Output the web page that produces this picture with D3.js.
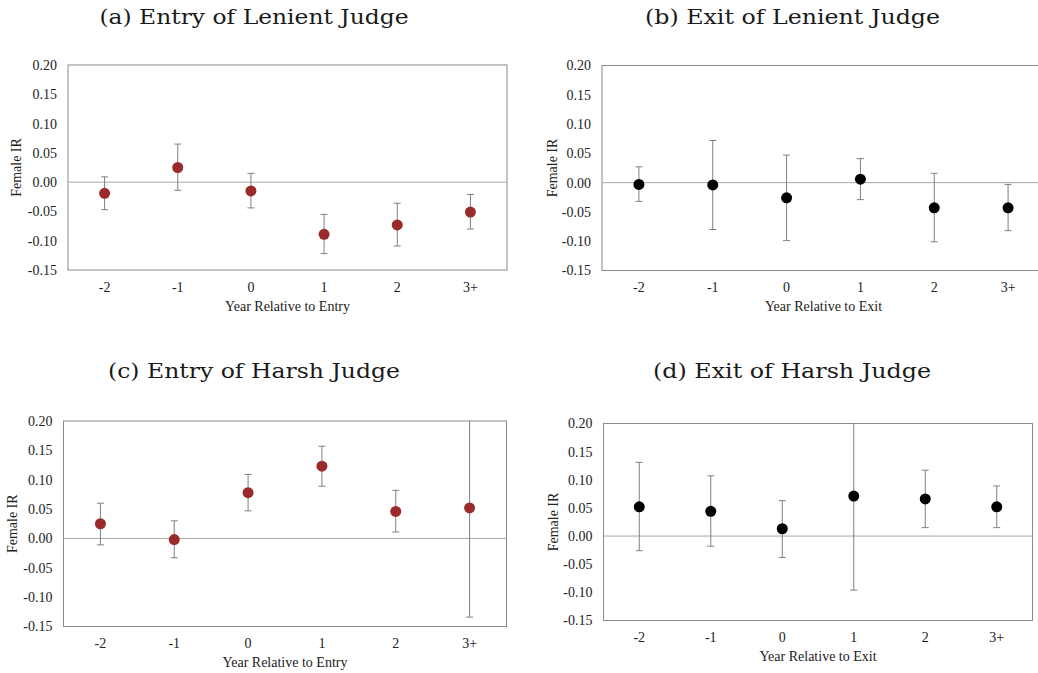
<!DOCTYPE html>
<html>
<head>
<meta charset="utf-8">
<script src="https://cdn.jsdelivr.net/npm/d3@7"></script>
<style>
  body { margin: 0; background: #fff; }
  svg { display: block; }
</style>
</head>
<body>
<div id="chart"></div>
<script>
// Categories and tick values shared by all four panels
const years = ['-2', '-1', '0', '1', '2', '3+'];
const yTicks = [0.20, 0.15, 0.10, 0.05, 0.00, -0.05, -0.10, -0.15];

// (a) Entry of lenient judge
const entryLenientEst = [-0.019, 0.025, -0.015, -0.089, -0.073, -0.051];
const entryLenientLo  = [-0.047, -0.014, -0.044, -0.122, -0.109, -0.080];
const entryLenientHi  = [0.009, 0.065, 0.015, -0.055, -0.036, -0.021];

// (b) Exit of lenient judge
const exitLenientEst = [-0.003, -0.004, -0.026, 0.006, -0.043, -0.043];
const exitLenientLo  = [-0.032, -0.080, -0.099, -0.029, -0.101, -0.082];
const exitLenientHi  = [0.027, 0.072, 0.047, 0.041, 0.016, -0.003];

// (c) Entry of harsh judge
const entryHarshEst = [0.025, -0.002, 0.078, 0.123, 0.046, 0.052];
const entryHarshLo  = [-0.011, -0.033, 0.047, 0.089, 0.011, -0.134];
const entryHarshHi  = [0.060, 0.030, 0.109, 0.157, 0.082, 0.238];

// (d) Exit of harsh judge
const exitHarshEst = [0.052, 0.044, 0.013, 0.071, 0.066, 0.052];
const exitHarshLo  = [-0.026, -0.018, -0.038, -0.096, 0.015, 0.015];
const exitHarshHi  = [0.131, 0.107, 0.063, 0.238, 0.117, 0.089];

const SERIF = '"Liberation Serif", "Times New Roman", serif';

const svg = d3.select('#chart')
    .append('svg')
    .attr('width', 1038)
    .attr('height', 673);

function drawPanel(p) {
    const x = d3.scaleBand()
        .domain(years)
        .range([p.left, p.right]);

    const y = d3.scaleLinear()
        .domain([-0.15, 0.20])
        .range([p.bottom, p.top]);

    // Panel title
    svg.append('text')
        .attr('x', p.titleX)
        .attr('y', p.titleY)
        .attr('text-anchor', 'middle')
        .attr('dominant-baseline', 'central')
        .attr('font-family', '"DejaVu Serif", serif')
        .attr('font-size', 19.5)
        .attr('textLength', p.titleW)
        .attr('lengthAdjust', 'spacingAndGlyphs')
        .attr('fill', '#1a1a1a')
        .text(p.title);

    // Plot box
    svg.append('rect')
        .attr('x', p.left)
        .attr('y', p.top)
        .attr('width', p.right - p.left)
        .attr('height', p.bottom - p.top)
        .attr('fill', 'none')
        .attr('stroke', '#8a8a8a')
        .attr('stroke-width', 1);

    // Zero line
    svg.append('line')
        .attr('x1', p.left)
        .attr('x2', p.right)
        .attr('y1', y(0))
        .attr('y2', y(0))
        .attr('stroke', '#a8a8a8')
        .attr('stroke-width', 1);

    // Y axis labels
    const yAxis = svg.append('g')
        .attr('transform', `translate(${p.left - 11},0)`)
        .call(d3.axisLeft(y).tickValues(yTicks).tickSize(0).tickPadding(0)
            .tickFormat(d => d.toFixed(2)));
    yAxis.select('.domain').remove();
    yAxis.selectAll('text')
        .attr('font-family', SERIF)
        .attr('font-size', 14)
        .attr('fill', '#222');

    // X axis labels
    const xAxis = svg.append('g')
        .attr('transform', `translate(0,${p.bottom + 17})`)
        .call(d3.axisBottom(x).tickSize(0).tickPadding(0));
    xAxis.select('.domain').remove();
    xAxis.selectAll('text')
        .attr('dy', '0.35em')
        .attr('font-family', SERIF)
        .attr('font-size', 14)
        .attr('fill', '#222');

    // Axis titles
    svg.append('text')
        .attr('x', (p.left + p.right) / 2)
        .attr('y', p.bottom + 36)
        .attr('text-anchor', 'middle')
        .attr('dominant-baseline', 'central')
        .attr('font-family', SERIF)
        .attr('font-size', 14)
        .attr('fill', '#222')
        .text(p.xTitle);

    svg.append('text')
        .attr('transform', `translate(${p.yTitleX},${(p.top + p.bottom) / 2}) rotate(-90)`)
        .attr('text-anchor', 'middle')
        .attr('dominant-baseline', 'central')
        .attr('font-family', SERIF)
        .attr('font-size', 14)
        .attr('fill', '#222')
        .text('Female IR');

    // Clip error bars to the plot box
    svg.append('clipPath')
        .attr('id', p.id)
        .append('rect')
        .attr('x', p.left)
        .attr('y', p.top)
        .attr('width', p.right - p.left)
        .attr('height', p.bottom - p.top);

    const rows = years.map((k, i) => ({ k, est: p.est[i], lo: p.lo[i], hi: p.hi[i] }));
    const cx = d => x(d.k) + x.bandwidth() / 2;
    const marks = svg.append('g').attr('clip-path', `url(#${p.id})`);

    const bars = marks.selectAll('.bar')
        .data(rows)
        .enter()
        .append('g')
        .attr('class', 'bar')
        .attr('stroke', '#808080')
        .attr('stroke-width', 1);

    bars.append('line')
        .attr('x1', cx).attr('x2', cx)
        .attr('y1', d => y(d.lo)).attr('y2', d => y(d.hi));
    bars.append('line')
        .attr('x1', d => cx(d) - 3.5).attr('x2', d => cx(d) + 3.5)
        .attr('y1', d => y(d.lo)).attr('y2', d => y(d.lo));
    bars.append('line')
        .attr('x1', d => cx(d) - 3.5).attr('x2', d => cx(d) + 3.5)
        .attr('y1', d => y(d.hi)).attr('y2', d => y(d.hi));

    marks.selectAll('.pt')
        .data(rows)
        .enter()
        .append('circle')
        .attr('class', 'pt')
        .attr('cx', cx)
        .attr('cy', d => y(d.est))
        .attr('r', 5.5)
        .attr('fill', p.color);
}

drawPanel({
    id: 'clipA', title: '(a) Entry of Lenient Judge', titleX: 254, titleY: 17, titleW: 309,
    left: 68, right: 507, top: 65, bottom: 270, yTitleX: 16,
    xTitle: 'Year Relative to Entry', color: '#9a2b2a',
    est: entryLenientEst, lo: entryLenientLo, hi: entryLenientHi
});

drawPanel({
    id: 'clipB', title: '(b) Exit of Lenient Judge', titleX: 792.5, titleY: 17, titleW: 295,
    left: 602, right: 1045, top: 65.5, bottom: 270.5, yTitleX: 552,
    xTitle: 'Year Relative to Exit', color: '#000',
    est: exitLenientEst, lo: exitLenientLo, hi: exitLenientHi
});

drawPanel({
    id: 'clipC', title: '(c) Entry of Harsh Judge', titleX: 254, titleY: 371.5, titleW: 292,
    left: 63.5, right: 506.5, top: 421, bottom: 626.5, yTitleX: 12,
    xTitle: 'Year Relative to Entry', color: '#9a2b2a',
    est: entryHarshEst, lo: entryHarshLo, hi: entryHarshHi
});

drawPanel({
    id: 'clipD', title: '(d) Exit of Harsh Judge', titleX: 792, titleY: 371.5, titleW: 278,
    left: 603.5, right: 1032.5, top: 423.5, bottom: 620.5, yTitleX: 553,
    xTitle: 'Year Relative to Exit', color: '#000',
    est: exitHarshEst, lo: exitHarshLo, hi: exitHarshHi
});
</script>
</body>
</html>
